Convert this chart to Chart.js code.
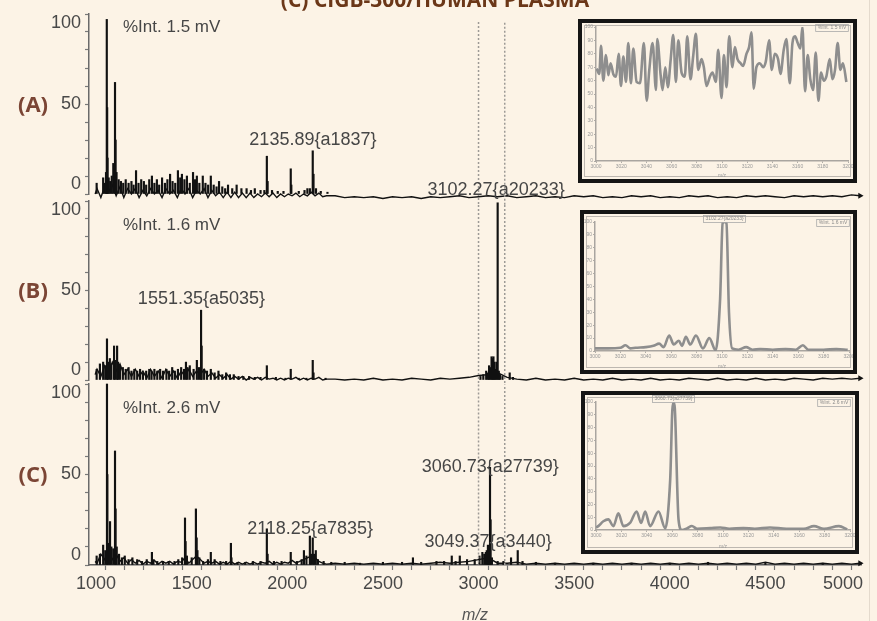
<!DOCTYPE html>
<html>
<head>
<meta charset="utf-8">
<script src="https://cdn.jsdelivr.net/npm/chart.js@4.4.1/dist/chart.umd.min.js"></script>
<style>
  html, body { margin: 0; padding: 0; }
  body { width: 877px; height: 621px; background: #fcf3e6; position: relative; overflow: hidden; }
  canvas { position: absolute; left: 0; }
  .inset { position: absolute; box-sizing: border-box; border: 4px solid #151515; background: #fcf3e6;
           box-shadow: inset 0 0 0 2px #fcf3e6, inset 0 0 0 3px #bdb7b0; }
  .inset canvas { top: 0; left: 0; }
  #edge { position: absolute; left: 869px; top: 0; width: 1px; height: 621px; background: #e4dacd; }
</style>
</head>
<body>
<canvas id="cA" width="877" height="205" style="top:0"></canvas>
<canvas id="cB" width="877" height="204" style="top:180px"></canvas>
<canvas id="cC" width="877" height="255" style="top:370px"></canvas>
<div class="inset" style="left:578px;top:19px;width:279px;height:164px"><canvas id="iA" width="271" height="156"></canvas></div>
<div class="inset" style="left:580px;top:210px;width:277px;height:164px"><canvas id="iB" width="269" height="156"></canvas></div>
<div class="inset" style="left:581px;top:391px;width:278px;height:163px"><canvas id="iC" width="270" height="155"></canvas></div>
<div id="edge"></div>
<script>
// m/z range of the three stacked spectra
const mzMin = 963, mzMax = 5000;

// x ticks (every 100) and where the labels go; "5000" sits left of its tick like in the original
const xTickMarks = [1000, 1100, 1200, 1300, 1400, 1500, 1600, 1700, 1800, 1900,
  2000, 2100, 2200, 2300, 2400, 2500, 2600, 2700, 2800, 2900,
  3000, 3100, 3200, 3300, 3400, 3500, 3600, 3700, 3800, 3900,
  4000, 4100, 4200, 4300, 4400, 4500, 4600, 4700, 4800, 4900, 5000];
const xLabelAt = [1000, 1500, 2000, 2500, 3000, 3500, 4000, 4500, 4906];
const xLabelText = ['1000', '1500', '2000', '2500', '3000', '3500', '4000', '4500', '5000'];

// y ticks (%Int every 10); the 0/100 labels are pulled inside the bracket
const yTickMarks = [0, 10, 20, 30, 40, 50, 60, 70, 80, 90, 100];
const yLabelAt = [5.5, 50, 95];
const yLabelText = ['0', '50', '100'];

// dashed window lines
const markerMz = [3000, 3137];

// (A) peak sticks
const peaksA_mz = [1003, 1037, 1045, 1052, 1056, 1058, 1060, 1066, 1074, 1082,
  1090, 1099, 1102, 1107, 1118, 1130, 1142, 1155, 1170, 1185,
  1196, 1209, 1222, 1236, 1250, 1262, 1278, 1292, 1305, 1318,
  1330, 1345, 1360, 1373, 1387, 1400, 1414, 1428, 1440, 1449,
  1462, 1475, 1490, 1507, 1517, 1527, 1540, 1558, 1572, 1586,
  1600, 1615, 1630, 1643, 1660, 1675, 1690, 1712, 1735, 1760,
  1787, 1810, 1830, 1860, 1880, 1893, 1897, 1920, 1950, 1980,
  2018, 2021, 2060, 2090, 2105, 2118, 2133, 2137, 2150, 2175, 2210];
const peaksA_int = [6, 9, 6, 12, 97, 48, 20, 9, 7, 10,
  17, 62, 30, 12, 8, 7, 6, 8, 6, 7,
  5, 13, 6, 8, 7, 5, 8, 10, 6, 8,
  5, 9, 6, 8, 11, 7, 6, 13, 9, 11,
  8, 10, 6, 12, 8, 10, 6, 10, 6, 5,
  10, 5, 4, 7, 4, 3, 5, 3, 5, 3,
  3, 2, 3, 2, 2, 21, 7, 2, 1.5, 1.5,
  14, 5, 1.5, 2, 3, 3, 24, 11, 3, 1.5, 1];

// (B) peak sticks
const peaksB_mz = [1003, 1020, 1037, 1048, 1057, 1062, 1072, 1080, 1094, 1100,
  1110, 1115, 1125, 1140, 1155, 1170, 1185, 1200, 1215, 1230,
  1245, 1262, 1278, 1290, 1305, 1320, 1335, 1350, 1368, 1382,
  1398, 1412, 1428, 1445, 1460, 1470, 1478, 1490, 1510, 1527,
  1538, 1549, 1552, 1565, 1580, 1600, 1620, 1640, 1660, 1680,
  1700, 1720, 1745, 1770, 1800, 1830, 1860, 1893, 1940, 1990,
  2018, 2060, 2100, 2133, 2137, 2200, 3010, 3025, 3040, 3048,
  3055, 3062, 3068, 3073, 3078, 3083, 3088, 3094, 3100, 3106,
  3112, 3125, 3163, 3180];
const peaksB_int = [6, 9, 10, 8, 23, 10, 12, 9, 19, 11,
  19, 10, 8, 7, 6, 7, 5, 6, 5, 6,
  4, 5, 6, 5, 6, 5, 6, 5, 6, 5,
  7, 5, 6, 7, 6, 10, 7, 8, 6, 11,
  7, 39, 19, 6, 5, 6, 4, 5, 3, 4,
  3, 3, 2, 2, 2, 1.5, 1.5, 8, 1.5, 1,
  6, 1, 1, 11, 4, 1, 2, 3, 5, 4,
  8, 7, 13, 12, 13, 10, 6, 10, 99, 5,
  3, 2, 4, 1.5];

// (C) peak sticks
const peaksC_mz = [1003, 1020, 1037, 1048, 1057, 1059, 1066, 1073, 1080, 1090,
  1099, 1102, 1108, 1120, 1135, 1150, 1170, 1190, 1215, 1240,
  1265, 1292, 1300, 1320, 1350, 1380, 1410, 1430, 1450, 1465,
  1468, 1475, 1500, 1522, 1526, 1530, 1540, 1560, 1585, 1600,
  1620, 1650, 1680, 1705, 1708, 1740, 1780, 1820, 1860, 1893,
  1897, 1930, 1970, 2018, 2050, 2075, 2087, 2100, 2118, 2124,
  2133, 2140, 2149, 2160, 2190, 2230, 2300, 2380, 2500, 2600,
  2657, 2700, 2780, 2820, 2860, 2880, 2902, 2940, 2980, 3005,
  3020, 3030, 3038, 3043, 3049, 3053, 3060, 3063, 3070, 3100,
  3130, 3170, 3205, 3230, 3300, 3400, 3600, 3800, 4000, 4200,
  4500, 4800];
const peaksC_int = [5, 6, 11, 8, 100, 50, 12, 24, 10, 9,
  63, 31, 10, 6, 4, 5, 3, 4, 3, 2,
  3, 7, 3, 2, 2, 2, 2, 3, 4, 26,
  13, 5, 4, 31, 15, 8, 4, 2, 3, 7,
  3, 2, 2, 12, 4, 1.5, 1.5, 2, 2, 20,
  6, 2, 2, 7, 2, 3, 8, 5, 16, 6,
  15, 6, 8, 3, 2, 1.5, 1.5, 1, 1.5, 1.5,
  4, 1.5, 2, 2, 5, 2, 5, 3, 3, 5,
  7, 6, 7, 8, 11, 10, 54, 25, 4, 2,
  2, 4, 8, 2, 1.5, 1, 1, 1, 1, 1.5,
  1, 1];

// baseline noise, sampled on one m/z grid for all three traces
const noiseMz = [995, 1005, 1025, 1045, 1065, 1085, 1105, 1125, 1145, 1165,
  1185, 1205, 1225, 1245, 1265, 1285, 1305, 1325, 1345, 1365,
  1385, 1405, 1425, 1445, 1465, 1485, 1505, 1525, 1545, 1565,
  1585, 1605, 1625, 1645, 1665, 1685, 1705, 1725, 1745, 1765,
  1785, 1805, 1825, 1845, 1865, 1885, 1905, 1925, 1945, 1965,
  1985, 2005, 2025, 2045, 2065, 2085, 2105, 2125, 2145, 2165,
  2185, 2205,
  2250, 2300, 2350, 2400, 2450, 2500, 2550, 2600, 2650, 2700,
  2750, 2800, 2850, 2900, 2950, 3000, 3050, 3100, 3150, 3200,
  3250, 3300, 3350, 3400, 3450, 3500, 3550, 3600, 3650, 3700,
  3750, 3800, 3850, 3900, 3950, 4000, 4050, 4100, 4150, 4200,
  4250, 4300, 4350, 4400, 4450, 4500, 4550, 4600, 4650, 4700,
  4750, 4800, 4850, 4900, 4950, 4995];
const noiseA = [0, 3, -2, 4, 1, 5, -1, 4, -2, 3,
  0, 3, -2, 2, -1, 3, 0, 2, -2, 3,
  0, 2, -2, 3, 0, 3, -2, 2, 0, 3,
  -2, 2, -1, 1, -2, 1, -2, 1, -2, 0.5,
  -2, 0.5, -2, 0, -1.5, 0.5, -1.5, 0.5, -2, 0,
  -1.5, 0, -1, 0.5, -1.5, 0, -1, 1, -1, 0.5,
  -1.5, -1,
  -1, -2, -1.5, -2, -1.5, -2.5, -1.5, -2, -1.5, -2.5,
  -1.5, -2, -1.5, -1, -2, -1.5, -1, -1.5, -1, -2,
  -1.5, -1, -2, -1.5, -2, -1, -1.5, -1, -2, -1.5,
  -2, -1, -1.5, -1, -2, -1.5, -2, -1, -1.5, -1,
  -2, -1.5, -2, -1, -1.5, -1, -1.5, -2, -1, -1.5,
  -1, -1.5, -1, -1.5, -0.5, -1];
const noiseB = [3, 6, 2, 8, 4, 10, 5, 9, 3, 6,
  2, 6, 2, 5, 1, 6, 2, 5, 1, 6,
  2, 5, 1, 5, 2, 6, 2, 5, 3, 6,
  2, 4, 1, 3, 1, 3, 0.5, 2, 0.5, 2,
  0, 1.5, 0.5, 1.5, 0, 1.5, 0.5, 1, 0, 1,
  0, 1, 0.5, 1.5, 0, 1, 0, 1, 0.5, 1.5,
  0, 0.5,
  0.5, 0, 0.5, 0, 1, 0, 0.5, 0, 1, 0.5,
  0, 1, 0.5, 1, 1.5, 2.5, 3, 4, 1.5, 0.5,
  0, 1, 0, 0.5, 0, 1, 0, 0.5, 0, 1,
  0, 0.5, 0, 1, 0, 0.5, 0, 1, 0.5, 0,
  1, 0, 0.5, 0, 1, 0, 0.5, 0, 1, 0.5,
  0, 1, 0.5, 1, 0.5, 1];
const noiseC = [2, 1, 6, 3, 8, 3, 6, 2, 4, 1,
  3, 1, 2.5, 0.5, 2, 1, 2.5, 0.5, 2, 1,
  2, 0.5, 2, 1.5, 4, 1, 3, 5, 3, 1,
  2, 1, 2, 0.5, 1.5, 0.5, 2, 0.5, 1.5, 0.5,
  1.5, 0.5, 1.5, 0.5, 1.5, 1, 2, 0.5, 1.5, 0.5,
  1.5, 1, 2.5, 1, 2, 3, 4, 5, 4, 2,
  1, 0.5,
  1, 0.5, 1, 0.5, 1, 0.5, 1, 0.5, 1, 0.5,
  1, 1.5, 1, 1.5, 2, 3, 4, 1, 1, 1.5,
  0.5, 1, 0.5, 1, 0.5, 1, 0.5, 1, 0.5, 1,
  0.5, 1, 0.5, 1, 0.5, 1, 0.5, 1, 0.5, 1,
  0.5, 1, 0.5, 1, 0.5, 1.5, 0.5, 1, 0.5, 1,
  0.5, 1, 0.5, 1, 0.5, 1];

// zoomed 3000-3200 windows (insets)
const insetA_mz = [3000.5, 3002.6, 3004, 3005.8, 3007.9, 3009.8, 3011.6, 3013.7, 3015.9, 3018,
  3019.8, 3021.7, 3023.8, 3025.6, 3027.7, 3029.6, 3032.2, 3034.9, 3038, 3040.2,
  3042.3, 3044.9, 3047.6, 3048.6, 3051.3, 3052.8, 3055, 3057, 3059.2, 3061.3,
  3063.4, 3065.3, 3067.9, 3070.5, 3072.4, 3075, 3077.1, 3079.3, 3081.1, 3083.8,
  3085.6, 3087.7, 3090.4, 3092.5, 3095.1, 3097, 3099.6, 3101.5, 3103.6, 3105.7,
  3108.3, 3110.2, 3112.3, 3114.7, 3116.8, 3119.4, 3121.5, 3123.4, 3125.2, 3127.3,
  3130, 3132.6, 3134.7, 3137.4, 3139.5, 3141.9, 3144.5, 3146.4, 3149, 3151.1,
  3153.8, 3155.9, 3158, 3160.1, 3162.2, 3163.8, 3165.9, 3168, 3170.1, 3172.3,
  3174.4, 3176.5, 3178.6, 3180.7, 3182.8, 3185.5, 3187.6, 3189.7, 3191.8, 3193.9,
  3196, 3198.7];
const insetA_int = [69, 65, 86, 60, 79, 64, 73, 65, 63, 80,
  56, 78, 59, 88, 58, 84, 59, 58, 88, 45,
  68, 88, 53, 91, 64, 53, 70, 55, 75, 94,
  59, 90, 66, 63, 93, 61, 78, 95, 68, 76,
  70, 56, 63, 66, 59, 83, 47, 79, 55, 93,
  70, 85, 76, 73, 71, 80, 85, 96, 54, 70,
  73, 70, 74, 90, 68, 80, 76, 65, 83, 91,
  58, 88, 93, 88, 84, 100, 52, 79, 61, 53,
  81, 45, 66, 60, 63, 76, 61, 68, 88, 68,
  73, 59];
const insetB_mz = [3000, 3010, 3020, 3024, 3028, 3032, 3040, 3046, 3050.5, 3054,
  3058.4, 3062, 3066, 3068.5, 3071.6, 3075, 3079.5, 3085, 3090, 3095,
  3098.5, 3100.5, 3102, 3103.5, 3105.5, 3108, 3113, 3119, 3124, 3130,
  3140, 3150, 3158, 3163.7, 3168, 3180, 3190, 3199];
const insetB_int = [2, 2, 2.5, 4.4, 2, 2.5, 3, 4, 5.7, 3,
  12, 5, 8, 4, 11, 5, 12, 2, 10, 0.5,
  40, 99, 100, 99, 30, 2, 1, 3, 1, 1.5,
  1, 1.5, 1, 4.4, 1, 1, 1.5, 1];
const insetC_mz = [3000, 3001.8, 3005.8, 3009.7, 3013.7, 3017.6, 3021.6, 3026.8, 3032, 3035.5,
  3038.7, 3042.6, 3049.2, 3054.5, 3058.4, 3060.5, 3061.6, 3065, 3067.6, 3071.6,
  3075.5, 3079.5, 3090, 3097.9, 3105, 3116, 3125, 3137, 3150, 3163.7,
  3171.6, 3179.5, 3191.3, 3197.9];
const insetC_int = [2, 3, 6.8, 8.3, 3, 13, 3, 5.5, 14.5, 5.5,
  14.5, 3, 14.5, 1.3, 39, 99, 99, 8, 0, 1.3,
  3.1, 1, 1.5, 2, 1, 1.5, 1, 2, 1, 1,
  3, 1, 3, 0.5];

const SANS = '"Liberation Sans", Arial, sans-serif';
const pairs = (xs, ys) => xs.map((x, i) => ({x: x, y: ys[i]}));

// peak labels, %Int note, panel letter and the (cut off) figure title
function panelDeco(o) {
  return {
    id: 'panelDeco',
    afterDatasetsDraw(chart) {
      const {ctx, scales: {x, y}} = chart;
      ctx.save();
      ctx.fillStyle = '#464646';
      ctx.textAlign = 'center';
      ctx.textBaseline = 'middle';
      ctx.font = '18px ' + SANS;
      o.labMz.forEach((m, i) => ctx.fillText(o.labText[i], x.getPixelForValue(m), y.getPixelForValue(o.labAt[i])));
      ctx.textAlign = 'left';
      ctx.font = '17px ' + SANS;
      ctx.fillText(o.intText, 123, o.intY);
      ctx.fillStyle = '#7b4535';
      ctx.textAlign = 'center';
      ctx.font = 'bold 22px "Open Sans", "Noto Sans", sans-serif';
      ctx.fillText(o.tag, 33, y.getPixelForValue(50) + 1.5);
      if (o.title) {
        ctx.fillStyle = '#6b3718';
        ctx.textBaseline = 'alphabetic';
        ctx.font = 'bold 21px "Open Sans", "Noto Sans", sans-serif';
        ctx.fillText(o.title, 435, 7);
      }
      ctx.restore();
    }
  };
}

function makePanel(id, o) {
  const lastNoise = noiseMz.length - 1;
  const marker = [
    {x: markerMz[0], y: o.mark[0]}, {x: markerMz[0], y: o.mark[1]}, {x: markerMz[0], y: null},
    {x: markerMz[1], y: o.mark[1]}, {x: markerMz[1], y: o.mark[0]}
  ];
  const tickFont = {family: SANS, size: 18};
  return new Chart(document.getElementById(id), {
    type: 'line',
    data: {
      datasets: [
        {type: 'line', data: marker, borderColor: '#9d9a96', borderWidth: 1.5, borderDash: [2, 2],
         pointRadius: 0, spanGaps: false, clip: false},
        {type: 'bar', data: pairs(o.peaksMz, o.peaksInt), backgroundColor: '#111', barThickness: 1.5,
         grouped: false, clip: 8},
        {type: 'line', data: pairs(noiseMz, o.noise), borderColor: '#111', borderWidth: 1.4,
         tension: 0, clip: false, backgroundColor: '#111', pointStyle: 'triangle', rotation: 90,
         pointBorderWidth: 0, pointRadius: c => c.dataIndex === lastNoise ? 3.5 : 0}
      ]
    },
    options: {
      responsive: false, animation: false, events: [],
      layout: {padding: {left: 0, right: 16, top: o.padTop, bottom: o.padBottom}},
      plugins: {legend: {display: false}, tooltip: {enabled: false}},
      scales: {
        x: {
          type: 'linear', min: mzMin, max: mzMax, offset: false, display: o.showX,
          afterBuildTicks: s => {
            s.ticks = xTickMarks.concat(xLabelAt.filter(v => !xTickMarks.includes(v))).map(v => ({value: v}));
          },
          afterFit: s => {
            s.paddingLeft = 0; s.paddingRight = 0;
            if (o.showX) s.height = 60;
          },
          border: {color: '#5e5e5e', width: 1.5},
          grid: {drawOnChartArea: false, tickLength: 5, tickWidth: 1.2,
                 tickColor: c => (c.tick && xTickMarks.includes(c.tick.value)) ? '#777' : 'rgba(0,0,0,0)'},
          ticks: {autoSkip: false, maxRotation: 0, padding: 3, color: '#484848', font: tickFont,
                  callback: v => { const i = xLabelAt.indexOf(v); return i < 0 ? '' : xLabelText[i]; }},
          title: {display: true, text: 'm/z', color: '#555', padding: 0,
                  font: {family: SANS, size: 16, style: 'italic'}}
        },
        y: {
          min: 0, max: 100,
          afterBuildTicks: s => {
            s.ticks = yTickMarks.concat(yLabelAt.filter(v => !yTickMarks.includes(v))).map(v => ({value: v}));
          },
          afterFit: s => { s.width = 89; s.paddingTop = 0; s.paddingBottom = 0; },
          border: {color: '#6a6a6a', width: 1.5},
          grid: {drawOnChartArea: false, tickLength: 4, tickWidth: 1.2,
                 tickColor: c => (c.tick && yTickMarks.includes(c.tick.value)) ? '#7a7a7a' : 'rgba(0,0,0,0)'},
          ticks: {autoSkip: false, padding: 4, color: '#484848', font: tickFont,
                  callback: v => { const i = yLabelAt.indexOf(v); return i < 0 ? '' : yLabelText[i]; }}
        }
      }
    },
    plugins: [panelDeco(o)]
  });
}

// tiny boxed tags inside the insets
function insetTags(o) {
  return {
    id: 'insetTags',
    afterDraw(chart) {
      const {ctx, chartArea, scales: {x}} = chart;
      ctx.save();
      ctx.font = '5px ' + SANS;
      ctx.textAlign = 'center';
      ctx.textBaseline = 'middle';
      ctx.fillStyle = '#8a8a8a';
      ctx.strokeStyle = '#aaa';
      ctx.lineWidth = 0.8;
      const tag = (t, cx, cy) => {
        const w = ctx.measureText(t).width + 4;
        ctx.strokeRect(cx - w / 2, cy - 3.5, w, 7);
        ctx.fillText(t, cx, cy);
      };
      tag(o.intText, chartArea.right - 16, chartArea.top + 1);
      if (o.peakText) tag(o.peakText, x.getPixelForValue(o.peakMz), chartArea.top - 3);
      ctx.restore();
    }
  };
}

function makeInset(id, o) {
  const small = {family: SANS, size: 5};
  const grid = {drawOnChartArea: false, tickLength: 2, color: '#b0aca7'};
  const border = {color: '#a9a5a0', width: 1.5};
  return new Chart(document.getElementById(id), {
    type: 'line',
    data: {
      datasets: [
        {data: pairs(o.mz, o.int), borderColor: '#8e8e8e', borderWidth: 2.6, pointRadius: 0,
         cubicInterpolationMode: 'monotone'},
        {data: pairs(o.mz, o.int), borderColor: '#f3f0eb', borderWidth: 0.9, pointRadius: 0,
         cubicInterpolationMode: 'monotone'}
      ]
    },
    options: {
      responsive: false, animation: false, events: [],
      layout: {padding: {left: 0, top: o.pad[1], right: o.pad[2], bottom: 0}},
      plugins: {legend: {display: false}, tooltip: {enabled: false}},
      scales: {
        x: {type: 'linear', min: 3000, max: 3200,
            afterFit: s => { s.height = o.pad[3]; s.paddingLeft = 0; s.paddingRight = 0; },
            ticks: {stepSize: 20, autoSkip: false, maxRotation: 0, padding: 1, font: small, color: '#999',
                    callback: v => String(v)},
            grid: grid, border: border,
            title: {display: true, text: 'm/z', font: small, color: '#999', padding: 0}},
        y: {min: 0, max: 100,
            afterFit: s => { s.width = o.pad[0]; s.paddingTop = 0; s.paddingBottom = 0; },
            ticks: {stepSize: 10, autoSkip: false, padding: 1, font: small, color: '#999'},
            grid: grid, border: border}
      }
    },
    plugins: [insetTags(o)]
  });
}

makePanel('cA', {
  peaksMz: peaksA_mz, peaksInt: peaksA_int, noise: noiseA, mark: [95.5, -6],
  padTop: 14, padBottom: 11, showX: false,
  labMz: [2134], labAt: [30], labText: ['2135.89{a1837}'],
  intText: '%Int. 1.5 mV', intY: 27, tag: '(A)', title: '(C) CIGB-300/HUMAN PLASMA'
});
makePanel('cB', {
  peaksMz: peaksB_mz, peaksInt: peaksB_int, noise: noiseB, mark: [97.8, -1.7],
  padTop: 21, padBottom: 3, showX: false,
  labMz: [3092, 1551], labAt: [106, 45], labText: ['3102.27{a20233}', '1551.35{a5035}'],
  intText: '%Int. 1.6 mV', intY: 45, tag: '(B)'
});
makePanel('cC', {
  peaksMz: peaksC_mz, peaksInt: peaksC_int, noise: noiseC, mark: [99.7, 0],
  padTop: 14, padBottom: 0, showX: true,
  labMz: [3061, 3050, 2119], labAt: [54, 12.7, 20],
  labText: ['3060.73{a27739}', '3049.37{a3440}', '2118.25{a7835}'],
  intText: '%Int. 2.6 mV', intY: 38, tag: '(C)'
});

makeInset('iA', {mz: insetA_mz, int: insetA_int, pad: [14, 4, 5, 18], intText: '%Int. 1.5 mV'});
makeInset('iB', {mz: insetB_mz, int: insetB_int, pad: [11, 8, 4, 19], intText: '%Int. 1.6 mV',
  peakText: '3102.27{a20233}', peakMz: 3102});
makeInset('iC', {mz: insetC_mz, int: insetC_int, pad: [11, 7, 5, 20], intText: '%Int. 2.6 mV',
  peakText: '3060.73{a27739}', peakMz: 3061});
</script>
</body>
</html>
